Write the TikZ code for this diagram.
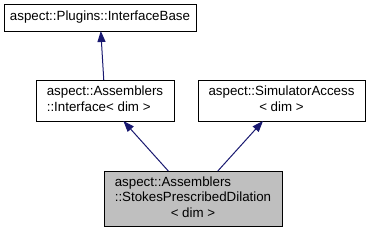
\documentclass[tikz,border=0pt]{standalone}
\usepackage{fontspec}
\setmainfont{Liberation Sans}
\usetikzlibrary{arrows.meta}
\definecolor{edgeblue}{HTML}{191970}
\tikzset{
  cls/.style={draw=black,line width=0.75pt,inner sep=0pt,outer sep=0pt,
    font=\fontsize{10}{11.6}\selectfont},
  inherit/.style={draw=edgeblue,line width=0.75pt,
    -{Triangle[length=8.25pt,width=6pt]}}
}
\newcommand{\clslines}[1]{\begin{tabular}{@{}l@{}}#1\end{tabular}}
\newcommand{\clsmid}[1]{\multicolumn{1}{@{}c@{}}{#1}}

\begin{document}
\begin{tikzpicture}[x=0.75pt,y=-0.75pt]
  \useasboundingbox (0,0) rectangle (372,232);
  \node[cls,minimum width=144pt,minimum height=20.25pt] (base) at (100,17.5)
    {aspect::Plugins::InterfaceBase};
  \node[cls,minimum width=103.5pt,minimum height=30.75pt] (iface) at (105,100.5)
    {\clslines{aspect::Assemblers\\::Interface< dim >}};
  \node[cls,minimum width=125.25pt,minimum height=30.75pt] (simacc) at (281.5,100.5)
    {\clslines{aspect::SimulatorAccess\\\clsmid{< dim >}}};
  \node[cls,fill=black!25,minimum width=133.5pt,minimum height=41.25pt] (dilation) at (193,198.5)
    {\clslines{aspect::Assemblers\\::StokesPrescribedDilation\\\clsmid{< dim >}}};
  \draw[inherit] (iface) -- (base);
  \draw[inherit] (dilation) -- (iface);
  \draw[inherit] (dilation) -- (simacc);
\end{tikzpicture}
\end{document}
